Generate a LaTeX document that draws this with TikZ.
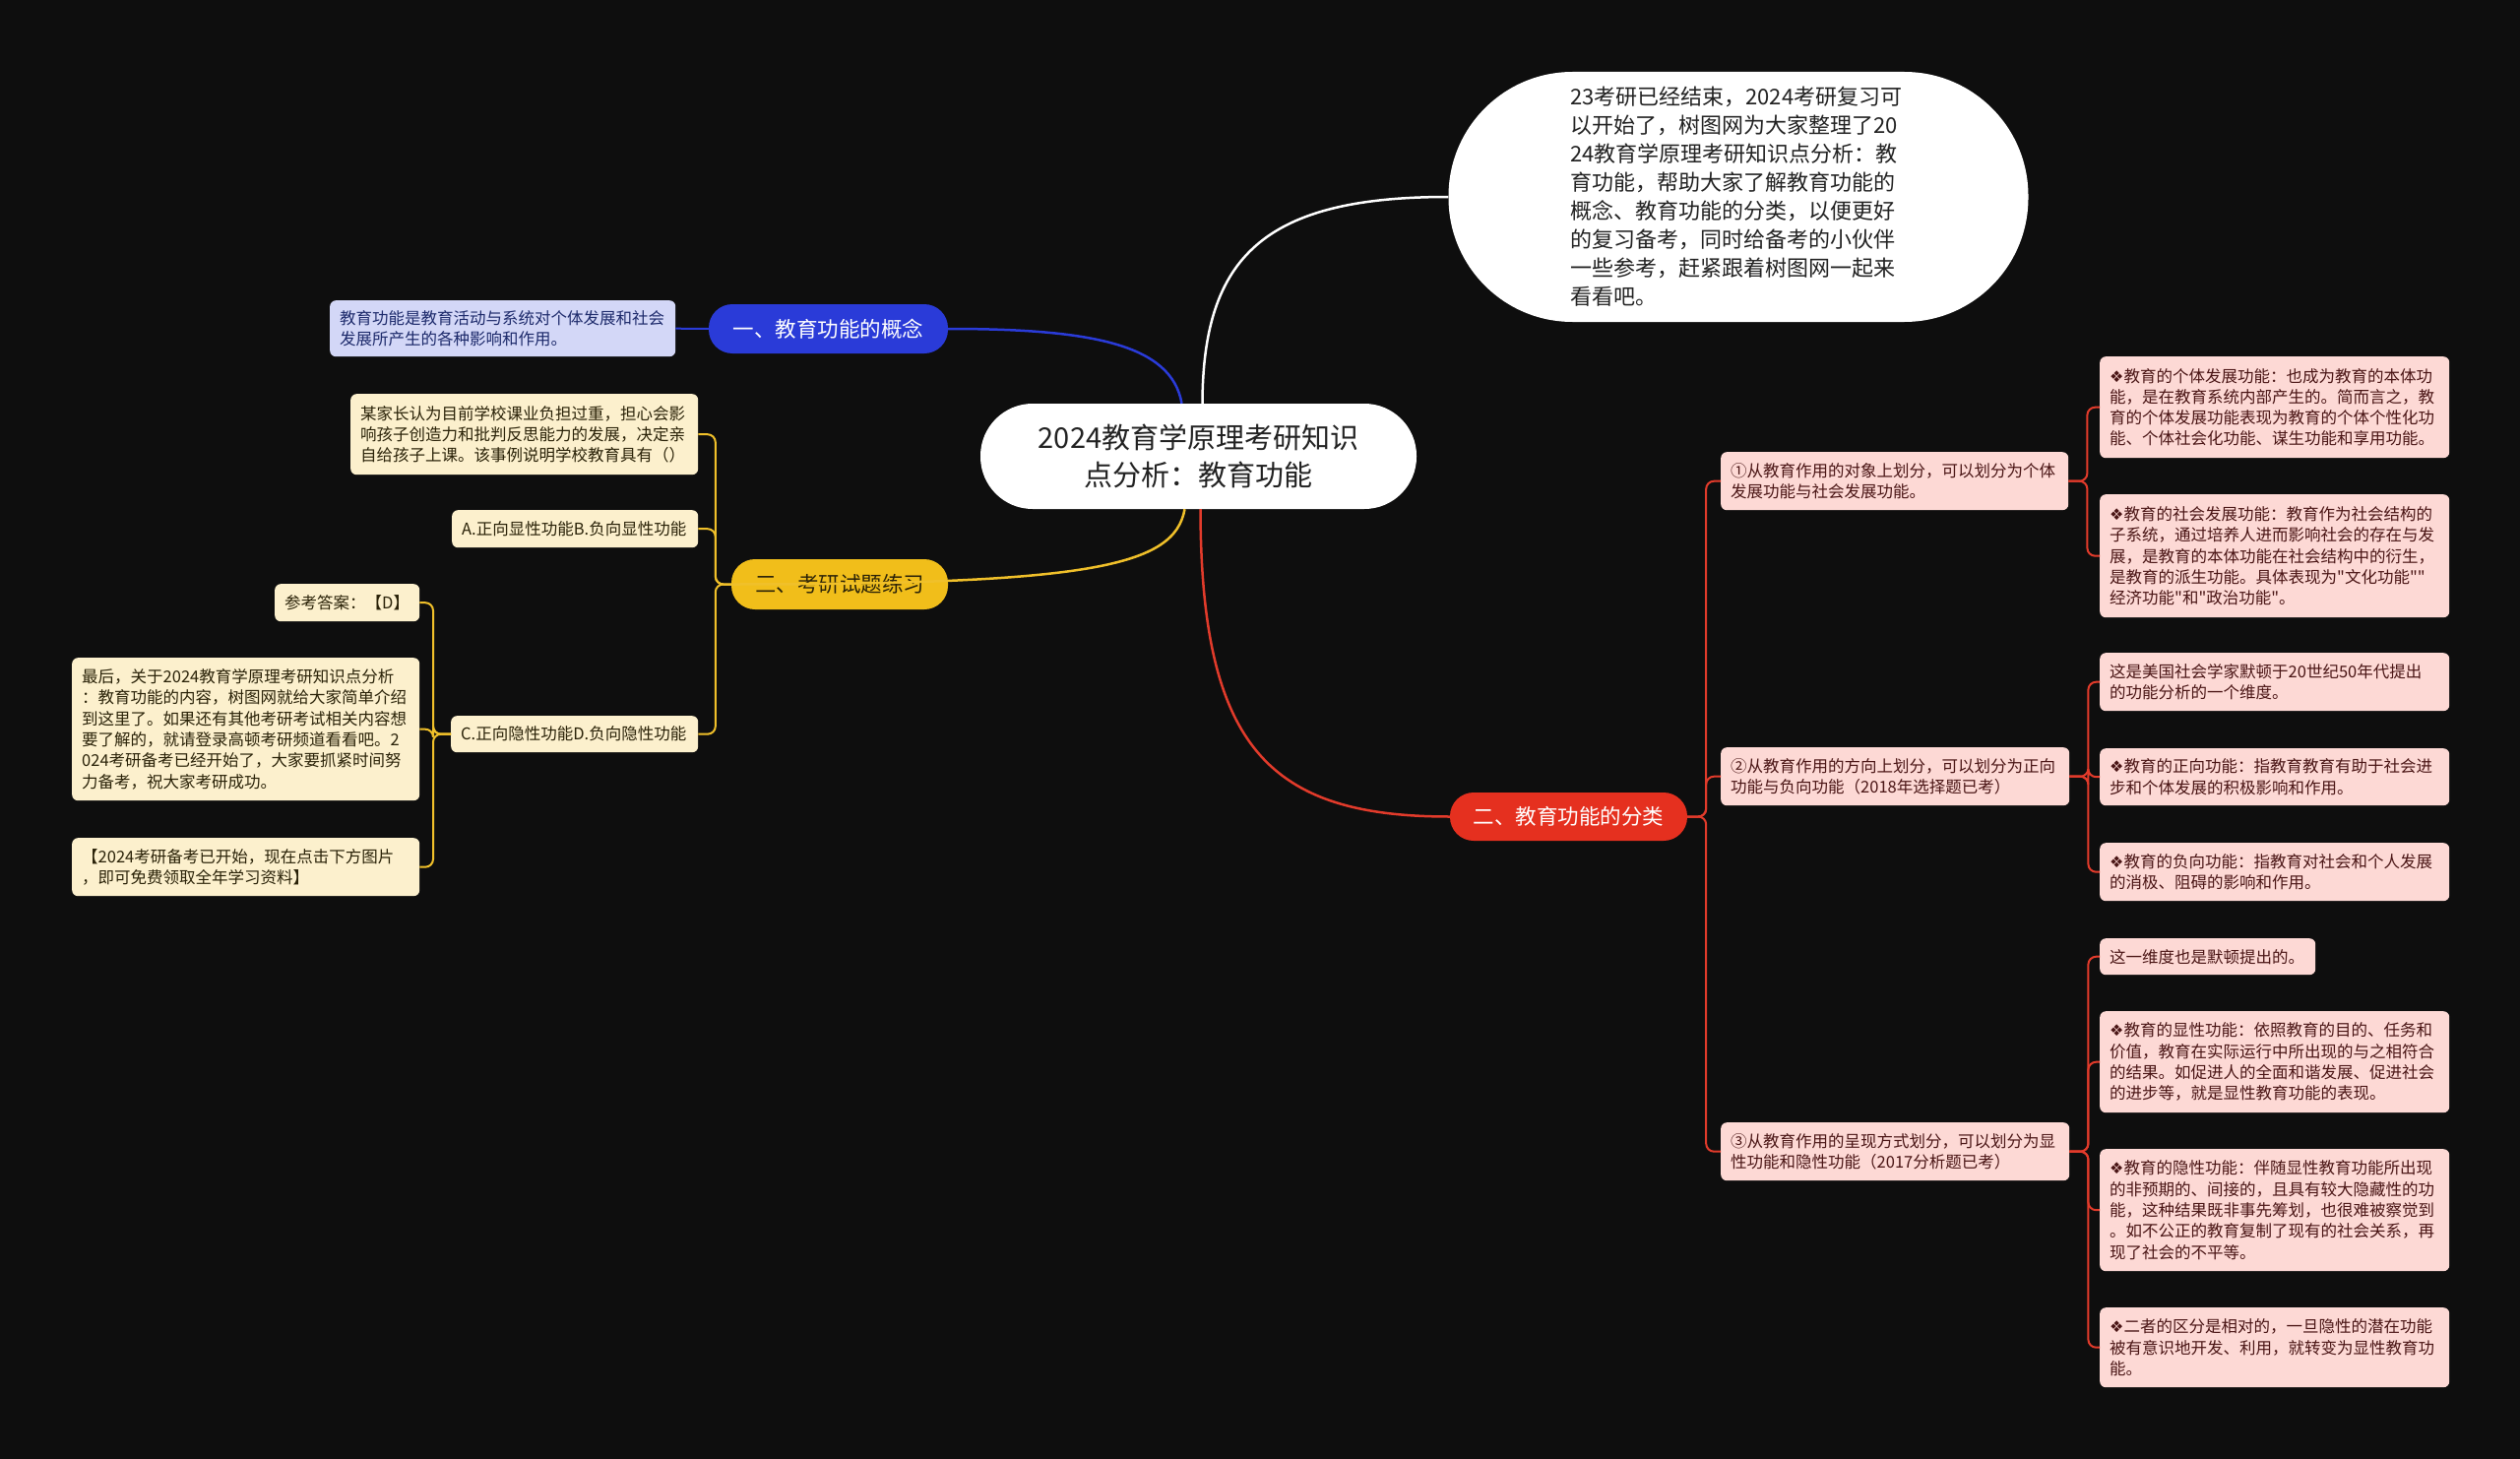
\documentclass[tikz,border=0pt]{standalone}
\usepackage{fontspec}
\setmainfont{Noto Sans CJK SC}[Ligatures=TeXOff]
\newfontfamily\symfont{DejaVu Sans}
\usetikzlibrary{calc}
\definecolor{bgc}{HTML}{0E0E0E}
\definecolor{blueb}{HTML}{2A3BD8}
\definecolor{bluel}{HTML}{D3D7F7}
\definecolor{bluet}{HTML}{1D2A6B}
\definecolor{yelb}{HTML}{F1BE1A}
\definecolor{yell}{HTML}{FCF0CD}
\definecolor{yelt}{HTML}{2A2208}
\definecolor{yelline}{HTML}{F0C02A}
\definecolor{redb}{HTML}{E5301F}
\definecolor{redl}{HTML}{FDD9D5}
\definecolor{redt}{HTML}{4A1515}
\definecolor{redline}{HTML}{E23B2B}
\definecolor{txt}{HTML}{222222}
\newcommand{\lf}{\fontsize{16.5}{21.3}\selectfont}
\newcommand{\pf}{\fontsize{21.5}{24}\selectfont}
\newcommand{\dm}{{\symfont\fontsize{16}{21.3}\selectfont ❖}}
\newcommand{\dq}{\char34\relax}
\tikzset{
  leafbase/.style={anchor=north west, align=left, inner xsep=10pt, inner ysep=0pt, rounded corners=6pt, font=\lf},
  bleaf/.style={leafbase, fill=bluel, text=bluet},
  yleaf/.style={leafbase, fill=yell, text=yelt},
  rleaf/.style={leafbase, fill=redl, text=redt},
  pill/.style={anchor=center, rounded corners=24pt, font=\pf, inner sep=0pt},
  mainline/.style={line width=2.5pt},
  subline/.style={line width=2pt, rounded corners=8pt},
}
\begin{document}
\begin{tikzpicture}[x=1pt,y=-1pt]
\useasboundingbox (0,0) rectangle (2560,1482);
\fill[bgc] (0,0) rectangle (2560,1482);

% central
\node[anchor=center, fill=white, rounded corners=53pt, minimum width=443pt, minimum height=107pt, align=center, text=txt, font=\fontsize{29}{38}\selectfont] (c) at (1217.5,463.5) {2024教育学原理考研知识\\点分析：教育功能};

% intro
\node[anchor=center, fill=white, rounded corners=126pt, minimum width=589pt, minimum height=254pt, text width=342pt, align=left, text=txt, font=\fontsize{22}{29}\selectfont] (intro) at (1766,200) {23考研已经结束，2024考研复习可\\以开始了，树图网为大家整理了20\\24教育学原理考研知识点分析：教\\育功能，帮助大家了解教育功能的\\概念、教育功能的分类，以便更好\\的复习备考，同时给备考的小伙伴\\一些参考，赶紧跟着树图网一起来\\看看吧。};

% branches
\node[pill, fill=blueb, text=white, minimum width=243pt, minimum height=50pt] (b1) at (841.5,334) {一、教育功能的概念};
\node[pill, fill=yelb, text=yelt, minimum width=220pt, minimum height=51pt] (b3) at (853,593.5) {三、考研试题练习};
\node[pill, fill=redb, text=white, minimum width=241pt, minimum height=49pt] (b2) at (1593.5,829.5) {二、教育功能的分类};

% blue leaf
\node[bleaf, text width=331pt, minimum height=57pt] (bl) at (335,305) {教育功能是教育活动与系统对个体发展和社会\\发展所产生的各种影响和作用。};

% yellow leaves
\node[yleaf, text width=333pt, minimum height=82pt] (yq) at (356,400) {某家长认为目前学校课业负担过重，担心会影\\响孩子创造力和批判反思能力的发展，决定亲\\自给孩子上课。该事例说明学校教育具有（）};
\node[yleaf, text width=230pt, minimum height=38pt] (ya) at (459,518) {A.正向显性功能B.负向显性功能};
\node[yleaf, text width=231pt, minimum height=37pt] (yc) at (458,727) {C.正向隐性功能D.负向隐性功能};
\node[yleaf, text width=127pt, minimum height=38pt] (yans) at (279,593) {参考答案：【D】};
\node[yleaf, text width=333pt, minimum height=145pt] (ylong) at (73,668) {最后，关于2024教育学原理考研知识点分析\\：教育功能的内容，树图网就给大家简单介绍\\到这里了。如果还有其他考研考试相关内容想\\要了解的，就请登录高顿考研频道看看吧。2\\024考研备考已经开始了，大家要抓紧时间努\\力备考，祝大家考研成功。};
\node[yleaf, text width=333pt, minimum height=59pt] (ylast) at (73,851) {【2024考研备考已开始，现在点击下方图片\\，即可免费领取全年学习资料】};

% red sub nodes
\node[rleaf, text width=333pt, minimum height=59pt] (r1) at (1748,459) {①从教育作用的对象上划分，可以划分为个体\\发展功能与社会发展功能。};
\node[rleaf, text width=334pt, minimum height=59pt] (r2) at (1748,759) {②从教育作用的方向上划分，可以划分为正向\\功能与负向功能（2018年选择题已考）};
\node[rleaf, text width=334pt, minimum height=59pt] (r3) at (1748,1140) {③从教育作用的呈现方式划分，可以划分为显\\性功能和隐性功能（2017分析题已考）};

% red leaves
\node[rleaf, text width=335pt, minimum height=103pt] (r1a) at (2133,362) {\dm 教育的个体发展功能：也成为教育的本体功\\能，是在教育系统内部产生的。简而言之，教\\育的个体发展功能表现为教育的个体个性化功\\能、个体社会化功能、谋生功能和享用功能。};
\node[rleaf, text width=335pt, minimum height=125pt] (r1b) at (2133,502) {\dm 教育的社会发展功能：教育作为社会结构的\\子系统，通过培养人进而影响社会的存在与发\\展，是教育的本体功能在社会结构中的衍生，\\是教育的派生功能。具体表现为\dq 文化功能\dq\dq\\经济功能\dq 和\dq 政治功能\dq 。};
\node[rleaf, text width=335pt, minimum height=59pt] (r2a) at (2133,663) {这是美国社会学家默顿于20世纪50年代提出\\的功能分析的一个维度。};
\node[rleaf, text width=335pt, minimum height=58pt] (r2b) at (2133,760) {\dm 教育的正向功能：指教育教育有助于社会进\\步和个体发展的积极影响和作用。};
\node[rleaf, text width=335pt, minimum height=59pt] (r2c) at (2133,856) {\dm 教育的负向功能：指教育对社会和个人发展\\的消极、阻碍的影响和作用。};
\node[rleaf, text width=199pt, minimum height=37pt] (r3a) at (2133,953) {这一维度也是默顿提出的。};
\node[rleaf, text width=335pt, minimum height=103pt] (r3b) at (2133,1027) {\dm 教育的显性功能：依照教育的目的、任务和\\价值，教育在实际运行中所出现的与之相符合\\的结果。如促进人的全面和谐发展、促进社会\\的进步等，就是显性教育功能的表现。};
\node[rleaf, text width=335pt, minimum height=124pt] (r3c) at (2133,1167) {\dm 教育的隐性功能：伴随显性教育功能所出现\\的非预期的、间接的，且具有较大隐藏性的功\\能，这种结果既非事先筹划，也很难被察觉到\\。如不公正的教育复制了现有的社会关系，再\\现了社会的不平等。};
\node[rleaf, text width=335pt, minimum height=81pt] (r3d) at (2133,1328) {\dm 二者的区分是相对的，一旦隐性的潜在功能\\被有意识地开发、利用，就转变为显性教育功\\能。};

% main connectors
\draw[mainline, white] ($(c.north)+(4,0)$) .. controls (1222,260) and (1285,200) .. (intro.west);
\draw[mainline, blueb] ($(c.north)+(-17,0)$) .. controls (1190,350) and (1110,334) .. (b1.east);
\draw[mainline, yelline] ($(c.south)+(-14,0)$) .. controls (1193,575) and (1110,593.5) .. (b3.west);
\draw[mainline, redline] ($(c.south)+(2,0)$) .. controls (1220,760) and (1290,829.5) .. (b2.west);

% blue
\draw[subline, blueb] (b1.west) -- (bl.east);

% yellow
\foreach \n in {yq,ya,yc} \draw[subline, yelline] (b3.west) -- ++(-16,0) |- (\n.east);
\foreach \n in {yans,ylong,ylast} \draw[subline, yelline] (yc.west) -- ++(-18,0) |- (\n.east);

% red
\foreach \n in {r1,r2,r3} \draw[subline, redline] (b2.east) -- ++(19,0) |- (\n.west);
\foreach \n in {r1a,r1b} \draw[subline, redline] (r1.east) -- ++(19,0) |- (\n.west);
\foreach \n in {r2a,r2b,r2c} \draw[subline, redline] (r2.east) -- ++(19,0) |- (\n.west);
\foreach \n in {r3a,r3b,r3c,r3d} \draw[subline, redline] (r3.east) -- ++(19,0) |- (\n.west);
\end{tikzpicture}
\end{document}
